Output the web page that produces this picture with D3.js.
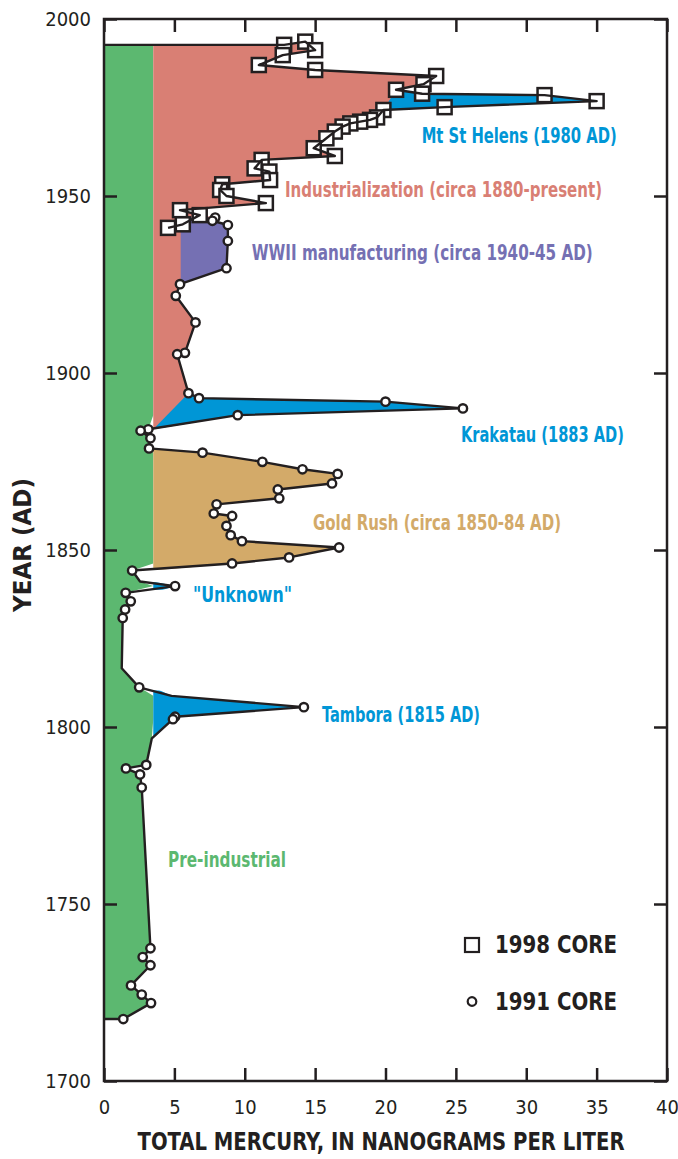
<!DOCTYPE html>
<html>
<head>
<meta charset="utf-8">
<script src="https://cdn.jsdelivr.net/npm/d3@7"></script>
<style>
  body { margin: 0; background: #fff; }
  svg { display: block; }
  .tick text { font-family: 'Liberation Sans Narrow', 'DejaVu Sans Condensed', 'Arial Narrow', sans-serif; font-size: 20px; fill: #231f20; }
  .tick line { stroke: #231f20; stroke-width: 2.5; }
</style>
</head>
<body>
<div id="viz"></div>
<script>
var width = 678;
var height = 1159;
var margin = {top: 19, right: 11, bottom: 78, left: 104};

// [year AD, total mercury ng/L] in the order the line is drawn
var core1998 = [
  [1992.7, 12.8], [1993.6, 14.3], [1991.2, 15.0], [1989.8, 12.7], [1987.0, 11.0],
  [1985.6, 15.0], [1983.9, 23.6], [1981.6, 22.7], [1980.0, 20.75], [1978.9, 22.6],
  [1978.5, 31.3], [1976.8, 35.0], [1975.1, 24.2], [1974.3, 19.85], [1972.2, 19.4],
  [1971.5, 18.9], [1971.0, 18.2], [1970.5, 17.5], [1969.6, 16.95], [1968.2, 16.4],
  [1966.3, 15.8], [1963.5, 14.9], [1961.3, 16.4], [1960.2, 11.2], [1957.8, 10.7],
  [1956.9, 11.75], [1954.5, 11.8], [1953.3, 8.4], [1951.7, 8.25], [1950.0, 8.7],
  [1948.0, 11.5], [1946.0, 5.4], [1944.6, 6.8], [1942.0, 5.6], [1941.0, 4.55]
];

var core1991 = [
  [1943.9, 7.9], [1943.0, 7.7], [1941.8, 8.8], [1937.3, 8.8], [1929.6, 8.7],
  [1925.1, 5.4], [1921.8, 5.1], [1914.3, 6.5], [1905.7, 5.75], [1905.3, 5.2],
  [1894.3, 6.0], [1892.9, 6.75], [1891.9, 20.0], [1890.0, 25.5], [1888.1, 9.5],
  [1884.1, 3.15], [1883.7, 2.6], [1881.6, 3.3], [1878.7, 3.2], [1877.5, 7.0],
  [1874.9, 11.25], [1872.8, 14.1], [1871.5, 16.6], [1868.8, 16.2], [1867.1, 12.35],
  [1864.6, 12.45], [1862.9, 8.0], [1860.3, 7.8], [1859.6, 9.1], [1856.8, 8.7],
  [1854.2, 9.0], [1852.5, 9.8], [1850.7, 16.7], [1847.9, 13.15], [1846.2, 9.1],
  [1844.2, 2.0], [1839.8, 5.05], [1837.9, 1.54], [1835.5, 1.9], [1833.2, 1.5],
  [1830.8, 1.33], [1811.2, 2.5], [1805.6, 14.2], [1802.9, 5.05], [1802.2, 4.9],
  [1789.3, 3.0], [1788.3, 1.56], [1786.6, 2.56], [1782.9, 2.68], [1737.5, 3.3],
  [1735.0, 2.75], [1732.7, 3.3], [1727.0, 1.92], [1724.4, 2.68], [1722.0, 3.34],
  [1717.5, 1.37]
];

// bends of the 1991 profile that carry no sample marker
var profileBends = [[1841.1, 2.56], [1816.6, 1.26], [1808.8, 4.8], [1796.8, 3.4]];

var background = 3.5;    // pre-industrial level, ng/L
var wwiiBase = 5.45;

// shaded periods above background: [name, from year, to year]
var periods = [
  ["industrial", 1884.3, 2000],
  ["goldrush", 1844.4, 1878.9],
  ["unknown", 1838.8, 1840.9],
  ["tambora", 1797.5, 1810.3]
];
var spikes = [["sthelens", 1974.3, 1980.0], ["krakatau", 1884.1, 1894.3]];
var wwii = [1925.1, 1943.9];

var xTicks = [0, 5, 10, 15, 20, 25, 30, 35, 40];
var yTicks = [1700, 1750, 1800, 1850, 1900, 1950, 2000];

var colors = {
  preindustrial: "#5cb870", industrial: "#d97f74", goldrush: "#d3aa69",
  unknown: "#0096d6", tambora: "#0096d6", sthelens: "#0096d6",
  krakatau: "#0096d6", wwii: "#7570b3", ink: "#231f20"
};
var font = "'Liberation Sans Narrow', 'DejaVu Sans Condensed', 'Arial Narrow', sans-serif";

var x = d3.scaleLinear().domain([0, 40]).range([margin.left, width - margin.right]);
var y = d3.scaleLinear().domain([1700, 2000]).range([height - margin.bottom, margin.top]);

var svg = d3.select("#viz").append("svg")
    .attr("width", width)
    .attr("height", height);

// 1991 samples plus the unmarked bends, in depth order
var profile1991 = d3.sort(core1991.concat(profileBends), function(d) { return -d[0]; });
var topYear = core1998[0][0];
var bottomYear = core1991[core1991.length - 1][0];

// composite record for the fills, closed to the axis at both ends
var record = [[topYear, 0]]
    .concat(core1998.filter(function(d) { return d[0] > core1991[0][0]; }))
    .concat(profile1991)
    .concat([[bottomYear, 0]]);

var defs = svg.append("defs");
function yearClip(id, y0, y1) {
  defs.append("clipPath").attr("id", id).append("rect")
      .attr("x", 0).attr("width", width)
      .attr("y", y(y1)).attr("height", y(y0) - y(y1));
  return "url(#" + id + ")";
}

var fills = svg.append("g");

// green: everything up to background level
fills.append("path")
    .attr("d", d3.area()
        .y(function(d) { return y(d[0]); })
        .x0(x(0))
        .x1(function(d) { return x(Math.min(d[1], background)); })(record))
    .attr("fill", colors.preindustrial);

var above = d3.area()
    .y(function(d) { return y(d[0]); })
    .x0(x(background))
    .x1(function(d) { return x(Math.max(d[1], background)); });

periods.forEach(function(p) {
  fills.append("path")
      .attr("d", above(record))
      .attr("fill", colors[p[0]])
      .attr("clip-path", yearClip("clip-" + p[0], p[1], p[2]));
});

var line = d3.line()
    .x(function(d) { return x(d[1]); })
    .y(function(d) { return y(d[0]); });

spikes.forEach(function(s) {
  var pts = record.filter(function(d) { return d[0] >= s[1] && d[0] <= s[2] && d[1] > 0; });
  fills.append("path")
      .attr("d", d3.line()
          .x(function(d) { return x(Math.max(d[1], background)); })
          .y(function(d) { return y(d[0]); })(pts) + "Z")
      .attr("fill", colors[s[0]]);
});

fills.append("path")
    .attr("d", d3.area()
        .y(function(d) { return y(d[0]); })
        .x0(x(wwiiBase))
        .x1(function(d) { return x(d[1]); })(profile1991.filter(function(d) { return d[0] >= wwii[0] && d[0] <= wwii[1]; })))
    .attr("fill", colors.wwii);

// square markers sit under the line, circles over it
svg.append("g").selectAll("rect")
    .data(core1998)
  .enter().append("rect")
    .attr("x", function(d) { return x(d[1]) - 7; })
    .attr("y", function(d) { return y(d[0]) - 7; })
    .attr("width", 14)
    .attr("height", 14)
    .attr("fill", "#fff")
    .attr("stroke", colors.ink)
    .attr("stroke-width", 2.5);

svg.append("path")
    .attr("d", line([[topYear, 0]].concat(core1998)))
    .attr("fill", "none")
    .attr("stroke", colors.ink)
    .attr("stroke-width", 2.4)
    .attr("stroke-linejoin", "round");

svg.append("path")
    .attr("d", line(profile1991.concat([[bottomYear, 0]])))
    .attr("fill", "none")
    .attr("stroke", colors.ink)
    .attr("stroke-width", 2.4)
    .attr("stroke-linejoin", "round");

svg.append("g").selectAll("circle")
    .data(core1991)
  .enter().append("circle")
    .attr("cx", function(d) { return x(d[1]); })
    .attr("cy", function(d) { return y(d[0]); })
    .attr("r", 4.2)
    .attr("fill", "#fff")
    .attr("stroke", colors.ink)
    .attr("stroke-width", 2.4);

// axes, ticks pointing inward on all four sides
var plotW = width - margin.left - margin.right;
var plotH = height - margin.top - margin.bottom;

svg.append("g")
    .attr("transform", "translate(0," + (height - margin.bottom) + ")")
    .call(d3.axisBottom(x).tickValues(xTicks).tickSize(-13).tickPadding(19));
svg.append("g")
    .attr("transform", "translate(" + margin.left + ",0)")
    .call(d3.axisLeft(y).tickValues(yTicks).tickFormat(d3.format("d")).tickSize(-13).tickPadding(13));
svg.append("g")
    .attr("transform", "translate(0," + margin.top + ")")
    .call(d3.axisTop(x).tickValues(xTicks).tickSize(-13).tickFormat(""));
svg.append("g")
    .attr("transform", "translate(" + (width - margin.right) + ",0)")
    .call(d3.axisRight(y).tickValues(yTicks).tickSize(-13).tickFormat(""));
svg.selectAll(".domain").remove();

svg.append("rect")
    .attr("x", margin.left)
    .attr("y", margin.top)
    .attr("width", plotW)
    .attr("height", plotH)
    .attr("fill", "none")
    .attr("stroke", colors.ink)
    .attr("stroke-width", 2.5);

function boldText(sel, size, len) {
  sel.style("font-family", font)
      .style("font-weight", "bold")
      .style("font-size", size + "px")
      .attr("textLength", len)
      .attr("lengthAdjust", "spacingAndGlyphs");
  return sel;
}

boldText(svg.append("text")
    .attr("x", 381)
    .attr("y", 1150)
    .attr("text-anchor", "middle")
    .style("fill", colors.ink)
    .text("TOTAL MERCURY, IN NANOGRAMS PER LITER"), 24, 487);

boldText(svg.append("text")
    .attr("transform", "translate(31,545) rotate(-90)")
    .attr("text-anchor", "middle")
    .style("fill", colors.ink)
    .text("YEAR (AD)"), 24, 134);

// event labels, anchored in data units [ng/L, year], with their printed widths
var labels = [
  ["Mt St Helens (1980 AD)", 22.57, 1964.9, 195, colors.sthelens],
  ["Industrialization (circa 1880-present)", 12.86, 1949.8, 317, colors.industrial],
  ["WWII manufacturing (circa 1940-45 AD)", 10.5, 1931.9, 341, colors.wwii],
  ["Krakatau (1883 AD)", 25.36, 1880.6, 163, colors.krakatau],
  ["Gold Rush (circa 1850-84 AD)", 14.85, 1855.6, 248, colors.goldrush],
  ["\"Unknown\"", 6.32, 1835.4, 99, colors.unknown],
  ["Tambora (1815 AD)", 15.49, 1801.5, 158, colors.tambora],
  ["Pre-industrial", 4.55, 1760.5, 118, colors.preindustrial]
];

svg.append("g").selectAll("text")
    .data(labels)
  .enter().append("text")
    .attr("x", function(d) { return x(d[1]); })
    .attr("y", function(d) { return y(d[2]); })
    .style("fill", function(d) { return d[4]; })
    .text(function(d) { return d[0]; })
    .each(function(d) { boldText(d3.select(this), 20.5, d[3]); });

// legend
var legend = svg.append("g").attr("transform", "translate(472,0)");
legend.append("rect")
    .attr("x", -7).attr("y", 938).attr("width", 14).attr("height", 14)
    .attr("fill", "#fff").attr("stroke", colors.ink).attr("stroke-width", 2.2);
legend.append("circle")
    .attr("cx", 0).attr("cy", 1001.5).attr("r", 4.3)
    .attr("fill", "#fff").attr("stroke", colors.ink).attr("stroke-width", 2.2);
legend.selectAll("text.lg")
    .data([["1998 CORE", 953], ["1991 CORE", 1010]])
  .enter().append("text")
    .attr("x", 23)
    .attr("y", function(d) { return d[1]; })
    .style("fill", colors.ink)
    .text(function(d) { return d[0]; })
    .each(function() { boldText(d3.select(this), 25, 122); });
</script>
</body>
</html>
